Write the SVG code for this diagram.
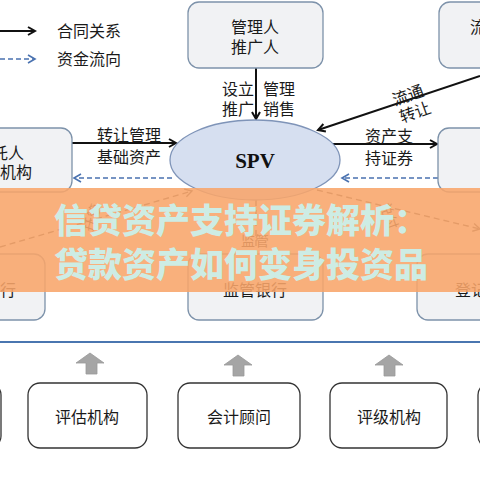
<svg xmlns="http://www.w3.org/2000/svg" width="480" height="480" viewBox="0 0 480 480">
<style>
.t{font-family:"Noto Sans CJK SC","Noto Sans",sans-serif;font-size:16px;fill:#1a1a1a;text-anchor:middle}
.node{fill:#f1f2f4;stroke:#7d92aa;stroke-width:1.3}
.bnode{fill:#ffffff;stroke:#333333;stroke-width:1.3}
.solid{stroke:#111;stroke-width:2;fill:none;marker-end:url(#ah)}
.dash{stroke:#4a72b0;stroke-width:1.6;stroke-dasharray:5 3;fill:none;marker-end:url(#ahb)}
.dash2{stroke:#555;stroke-width:1.4;stroke-dasharray:6 4;fill:none;marker-end:url(#ahg)}
.up{fill:#a5a5a5;stroke:#999;stroke-width:0.8}
.wm{font-family:"Noto Sans CJK SC",sans-serif;font-weight:900;font-size:34px;fill:#cdece4;text-anchor:middle}
</style>
<defs>
<marker id="ah" markerWidth="10" markerHeight="10" refX="8" refY="5" orient="auto" markerUnits="userSpaceOnUse">
<path d="M1,1 L8,5 L1,9" fill="none" stroke="#111" stroke-width="2"/>
</marker>
<marker id="ahb" markerWidth="10" markerHeight="10" refX="8" refY="5" orient="auto" markerUnits="userSpaceOnUse">
<path d="M1,1 L8,5 L1,9" fill="none" stroke="#4a72b0" stroke-width="1.6"/>
</marker>
<marker id="ahg" markerWidth="10" markerHeight="10" refX="8" refY="5" orient="auto" markerUnits="userSpaceOnUse">
<path d="M1,1 L8,5 L1,9" fill="none" stroke="#555" stroke-width="1.4"/>
</marker>
</defs>
<rect x="0" y="0" width="480" height="480" fill="#ffffff"/>

<g id="legend">
<line x1="0" y1="31" x2="35" y2="31" class="solid"/>
<text x="89" y="37" class="t">合同关系</text>
<line x1="0" y1="59" x2="35" y2="59" class="dash"/>
<text x="89" y="65" class="t">资金流向</text>
</g>

<g id="connectors">
<line x1="256" y1="68" x2="256" y2="119" class="solid"/>
<line x1="72" y1="143" x2="176" y2="143" class="solid"/>
<line x1="172" y1="178" x2="74" y2="178" class="dash"/>
<line x1="333" y1="144" x2="437" y2="144" class="solid"/>
<line x1="438" y1="178" x2="342" y2="178" class="dash"/>
<line x1="480" y1="76" x2="318" y2="130" class="solid"/>
<line x1="0" y1="247" x2="192" y2="191" class="dash2"/>
<line x1="317" y1="190" x2="480" y2="229" class="dash2"/>
<line x1="256" y1="200" x2="256" y2="252" class="dash2" style="marker-end:none"/>
<text x="238" y="95" class="t">设立</text>
<text x="279" y="95" class="t">管理</text>
<text x="238" y="115" class="t">推广</text>
<text x="279" y="115" class="t">销售</text>
<text x="129" y="141" class="t">转让管理</text>
<text x="129" y="163" class="t">基础资产</text>
<text x="389" y="142" class="t">资产支</text>
<text x="389" y="164" class="t">持证券</text>
<text x="408" y="101" class="t" transform="rotate(-20 408 95)">流通</text>
<text x="415" y="118" class="t" transform="rotate(-20 415 112)">转让</text>
<text x="93" y="222" class="t" style="font-size:14px" transform="rotate(-70 93 218)">托管</text>
<text x="255" y="246" class="t" style="font-size:14px">监管</text>
<text x="388" y="220" class="t" style="font-size:14px" transform="rotate(70 388 216)">兑付</text>
</g>

<g id="n-manager">
<rect x="188" y="2" width="135" height="66" rx="11" class="node"/>
<text x="255" y="33" class="t">管理人</text>
<text x="255" y="53" class="t">推广人</text>
</g>
<g id="n-trade">
<rect x="439" y="2" width="60" height="66" rx="11" class="node"/>
<text x="470" y="33" class="t" style="text-anchor:start">流通市场</text>
</g>
<g id="n-spv">
<ellipse cx="255" cy="160" rx="85" ry="40" fill="#d6dff0" stroke="#7f94b8" stroke-width="1.3"/>
<text x="255" y="168" style="font-family:'Liberation Serif',serif;font-weight:bold;font-size:21px;text-anchor:middle;fill:#111">SPV</text>
</g>
<g id="n-originator">
<rect x="-60" y="128" width="132" height="64" rx="11" class="node"/>
<text x="0" y="159" class="t">委托人</text>
<text x="0" y="178" class="t">发起机构</text>
</g>
<g id="n-investor">
<rect x="438" y="128" width="60" height="64" rx="11" class="node"/>
<text x="484" y="166" class="t" style="text-anchor:start">投资者</text>
</g>
<g id="n-custodian">
<rect x="-60" y="254" width="105" height="66" rx="11" class="node"/>
<text x="-16" y="296" class="t">托管银行</text>
</g>
<g id="n-regulator">
<rect x="188" y="254" width="135" height="66" rx="11" class="node"/>
<text x="255" y="296" class="t">监管银行</text>
</g>
<g id="n-registrar">
<rect x="417" y="254" width="90" height="66" rx="11" class="node"/>
<text x="455" y="296" class="t" style="text-anchor:start">登记托管机构</text>
</g>

<rect x="0" y="188" width="480" height="104" fill="#f8a56a" opacity="0.88"/>
<text x="241" y="233" class="wm">信贷资产支持证券解析：</text>
<text x="241" y="277" class="wm">贷款资产如何变身投资品</text>

<line x1="0" y1="342" x2="480" y2="342" stroke="#4a76b0" stroke-width="2.2"/>

<g id="arrows-up">
<path d="M90,353 L104,363 L97,363 L97,374 L86,374 L86,363 L76,363 Z" class="up"/>
<path d="M238,355 L252,365 L244,365 L244,376 L233,376 L233,365 L224,365 Z" class="up"/>
<path d="M389,355 L403,365 L395,365 L395,376 L384,376 L384,365 L375,365 Z" class="up"/>
</g>
<g id="n-left-bottom">
<rect x="-120" y="383" width="121" height="65" rx="12" class="bnode"/>
</g>
<g id="n-eval">
<rect x="28" y="383" width="119" height="65" rx="12" class="bnode"/>
<text x="87" y="423" class="t">评估机构</text>
</g>
<g id="n-account">
<rect x="178" y="383" width="122" height="65" rx="12" class="bnode"/>
<text x="239" y="423" class="t">会计顾问</text>
</g>
<g id="n-rating">
<rect x="330" y="383" width="117" height="65" rx="12" class="bnode"/>
<text x="389" y="423" class="t">评级机构</text>
</g>
<g id="n-right-bottom">
<rect x="478" y="383" width="120" height="65" rx="12" class="bnode"/>
</g>
</svg>
